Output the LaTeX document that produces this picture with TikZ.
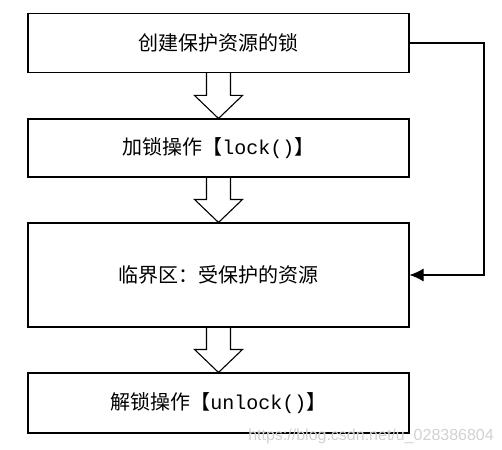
\documentclass[tikz,border=0pt]{standalone}
\usepackage{fontspec}
\newfontfamily\cjk{Noto Sans CJK SC}
\newfontfamily\lmono{Liberation Mono}
\newfontfamily\lsans{Liberation Sans}
\usetikzlibrary{calc,arrows.meta}
\begin{document}
\begin{tikzpicture}[x=1pt,y=-1pt,
  box/.style={draw,line width=1.1pt,minimum width=381pt,inner sep=0pt,font=\cjk\fontsize{20}{22}\selectfont},
  blk/.style={draw,line width=1.1pt,line join=miter},
  conn/.style={draw,line width=1.1pt,-{Latex[length=14pt,width=13pt]}}]
\useasboundingbox (0,0) rectangle (502,449);
\node[box,minimum height=59pt] (b1) at (218.5,43) {创建保护资源的锁};
\node[box,minimum height=58pt] (b2) at (218.5,148) {加锁操作【{\lmono lock()}】};
\node[box,minimum height=104pt] (b3) at (218.5,275) {临界区：受保护的资源};
\node[box,minimum height=60pt] (b4) at (218.5,403) {解锁操作【{\lmono unlock()}】};
\foreach \a/\b in {b1/b2,b2/b3,b3/b4}{
  \draw[blk] ($(\a.south)+(-12,0)$) -- ($(\b.north)+(-12,-23)$) -- ($(\b.north)+(-24,-23)$) -- (\b.north) -- ($(\b.north)+(24,-23)$) -- ($(\b.north)+(12,-23)$) -- ($(\a.south)+(12,0)$);
}
\coordinate (r) at (484,0);
\draw[conn] (b1.east) -- (b1.east -| r) -- (b3.east -| r) -- (b3.east);
\node[anchor=base east,inner sep=0pt,text=black!18,font=\lsans\fontsize{16}{18}\selectfont] (wm) at (494,440) {https://blog.csdn.net/u\_028386804};
\end{tikzpicture}
\end{document}
